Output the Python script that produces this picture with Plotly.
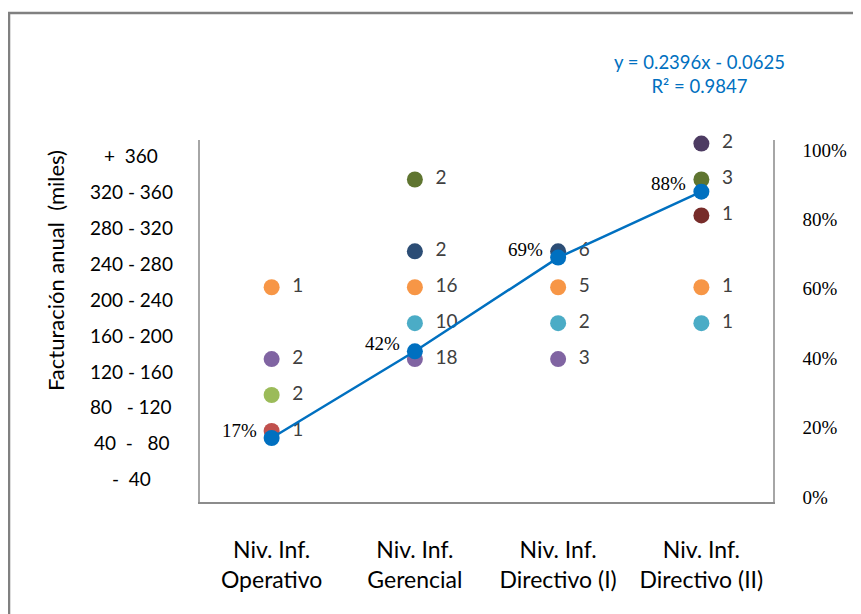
import plotly.graph_objects as go

# ---------------- data ----------------
categories = ["Niv. Inf.<br>Operativo", "Niv. Inf.<br>Gerencial",
              "Niv. Inf.<br>Directivo (I)", "Niv. Inf.<br>Directivo (II)"]

revenue_levels = ["-\u00a0\u00a040", "40\u00a0\u00a0-\u00a0\u00a0\u00a080", "80\u00a0\u00a0\u00a0-\u00a0120",
                  "120 - 160", "160 - 200", "200 - 240", "240 - 280",
                  "280 - 320", "320 - 360", "+\u00a0\u00a0360"]

# counts per revenue level (index into revenue_levels) per category (None = no dot)
counts_40_80 = [1, None, None, None]
counts_80_120 = [2, None, None, None]
counts_120_160 = [2, 18, 3, None]
counts_160_200 = [None, 10, 2, 1]
counts_200_240 = [1, 16, 5, 1]
counts_240_280 = [None, 2, 6, None]
counts_280_320 = [None, None, None, 1]
counts_320_360 = [None, 2, None, 3]
counts_360_plus = [None, None, None, 2]

series_counts = [
    (1, counts_40_80, "#C0504D"),
    (2, counts_80_120, "#9BBB59"),
    (3, counts_120_160, "#8064A2"),
    (4, counts_160_200, "#4BACC6"),
    (5, counts_200_240, "#F79646"),
    (6, counts_240_280, "#2C4D75"),
    (7, counts_280_320, "#772C2A"),
    (8, counts_320_360, "#5F7530"),
    (9, counts_360_plus, "#4D3B62"),
]

pct_values = [0.17, 0.42, 0.69, 0.88]
pct_labels = ["17%", "42%", "69%", "88%"]
equation_text = "y = 0.2396x - 0.0625<br>R² = 0.9847"
y_title = "Facturación anual\u00a0\u00a0(miles)"

SANS = "Lato"
SERIF = "Liberation Serif"

fig = go.Figure()

for lvl, cnts, col in series_counts:
    xs = [c for c, v in zip(categories, cnts) if v is not None]
    vs = [v for v in cnts if v is not None]
    fig.add_trace(go.Scatter(
        x=xs, y=[lvl] * len(xs), mode="markers+text",
        text=[str(v) for v in vs], texttemplate="\u2002%{text}",
        textposition="middle right",
        textfont=dict(family=SANS, size=19, color="#404040"),
        marker=dict(size=16, color=col),
        showlegend=False, hoverinfo="skip", cliponaxis=False,
    ))

fig.add_trace(go.Scatter(
    x=categories, y=pct_values, yaxis="y2", mode="lines+markers",
    line=dict(color="#0070C0", width=2.5),
    marker=dict(size=16, color="#0070C0"),
    showlegend=False, hoverinfo="skip", cliponaxis=False,
))

annotations = []
for c, v, t in zip(categories, pct_values, pct_labels):
    annotations.append(dict(x=c, y=v, xref="x", yref="y2", text=t, showarrow=False,
                            xanchor="right", yanchor="middle", xshift=-13, yshift=8,
                            font=dict(family=SERIF, size=19, color="black")))
for i, lab in enumerate(revenue_levels):
    annotations.append(dict(x=-0.1204, y=i, xref="paper", yref="y", text=lab, showarrow=False,
                            xanchor="center", yanchor="middle", yshift=-12,
                            font=dict(family=SANS, size=19, color="black")))
annotations.append(dict(x=-0.253, y=0.638, xref="paper", yref="paper", text=y_title,
                        showarrow=False, textangle=-90, xanchor="center", yanchor="middle",
                        font=dict(family=SANS, size=22, color="black")))
annotations.append(dict(x=0.8726, y=1.181, xref="paper", yref="paper", text=equation_text,
                        showarrow=False, xanchor="center", yanchor="middle", align="center",
                        font=dict(family=SANS, size=18.5, color="#0070C0")))

fig.update_layout(
    width=853, height=606,
    margin=dict(l=192, r=88, t=132, b=112),
    paper_bgcolor="white", plot_bgcolor="white",
    xaxis=dict(type="category", range=[-0.5, 3.5], showgrid=False, zeroline=False,
               showline=True, linecolor="#8C8C8C", linewidth=2, ticks="",
               tickfont=dict(family=SANS, size=23, color="black"), ticklabelstandoff=26),
    yaxis=dict(range=[-0.98, 9.1], showgrid=False, zeroline=False, showline=True,
               linecolor="#A6A6A6", linewidth=1.5, showticklabels=False, ticks=""),
    yaxis2=dict(overlaying="y", side="right", range=[-0.0144, 1.029],
                tickvals=[0, 0.2, 0.4, 0.6, 0.8, 1.0], tickformat=".0%",
                showgrid=False, zeroline=False, showline=True, linecolor="#A6A6A6",
                linewidth=1.5, ticks="", ticklabelstandoff=24,
                tickfont=dict(family=SERIF, size=19, color="black")),
    annotations=annotations,
    shapes=[dict(type="rect", xref="paper", yref="paper", x0=-0.3333, y0=-0.35,
                 x1=1.2, y1=1.3508, line=dict(color="#808080", width=2.5))],
)

fig.write_html("out.html")
